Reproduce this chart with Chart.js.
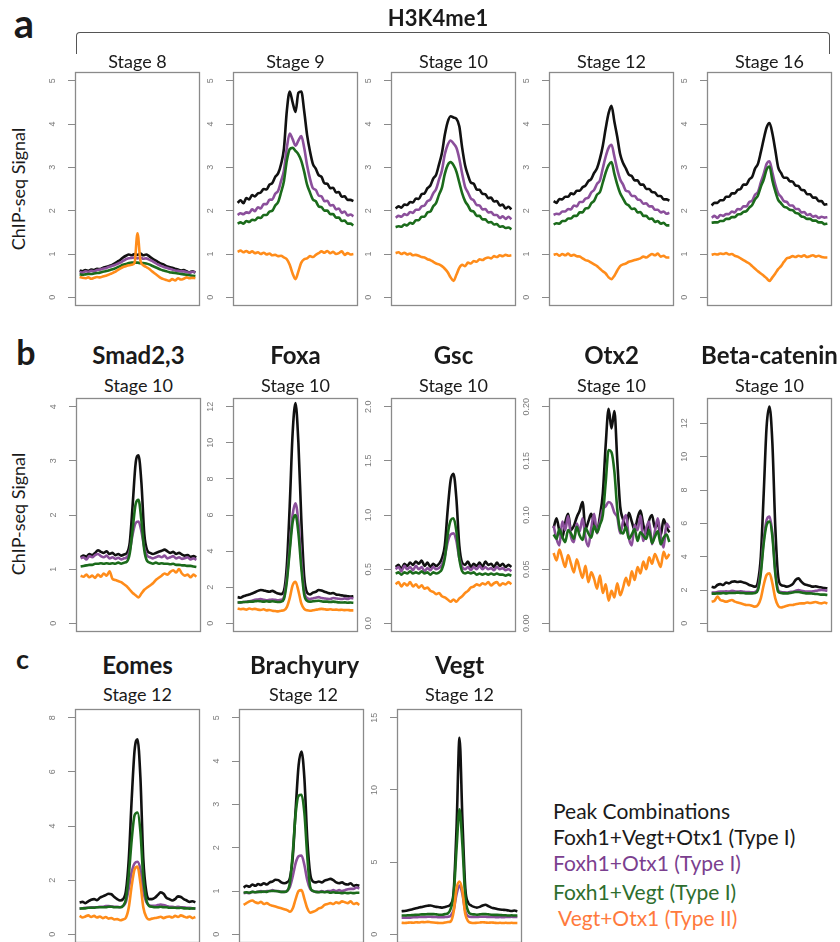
<!DOCTYPE html>
<html>
<head>
<meta charset="utf-8">
<script src="https://cdn.jsdelivr.net/npm/chart.js@4.4.0/dist/chart.umd.min.js"></script>
<style>
  body { margin: 0; width: 840px; height: 942px; overflow: hidden; background: #fff; position: relative; font-family: Lato, "Noto Sans", sans-serif; color: #1a1a1a; }
  canvas { position: absolute; }
  .t { position: absolute; white-space: nowrap; line-height: 1; transform: translate(-50%, -50%); }
  .l { position: absolute; white-space: nowrap; line-height: 1; transform: translate(0, -50%); font-size: 21px; }
</style>
</head>
<body>
<div style="position:absolute;left:75.5px;top:32px;width:752px;height:21px;border:1.5px solid #555;border-bottom:none;border-radius:4px 4px 0 0;"></div>
<script>
// bin positions around the peak centre
const bins = [-20,-19,-18,-17,-16,-15,-14,-13,-12,-11,-10,-9,-8,-7,-6,-5,-4,-3,-2,-1,0,1,2,3,4,5,6,7,8,9,10,11,12,13,14,15,16,17,18,19,20];

const seriesNames = ['Foxh1+Vegt+Otx1 (Type I)', 'Foxh1+Otx1 (Type I)', 'Foxh1+Vegt (Type I)', 'Vegt+Otx1 (Type II)'];
const seriesColors = ['#111111', '#8b4f9b', '#1b6b1b', '#ff8c1a'];
const legendColors = ['#1a1a1a', '#7b3f8f', '#2e6e2e', '#ff7a3d'];

// tick labels / axis limits
const ticksA = ['0','1','2','3','4','5'];
const ticksSmad = ['0','1','2','3','4'];
const ticksFoxa = ['0','2','4','6','8','10','12'];
const ticksGsc = ['0.0','0.5','1.0','1.5','2.0'];
const ticksOtx2 = ['0.00','0.05','0.10','0.15','0.20'];
const ticksBcat = ['0','2','4','6','8','10','12'];
const ticksEomes = ['0','2','4','6','8'];
const ticksBra = ['0','1','2','3','4','5'];
const ticksVegt = ['0','5','10','15'];
const limA = [0, 5], limSmad = [0, 4], limFoxa = [0, 12], limGsc = [0, 2], limOtx2 = [0, 0.2];
const limBcat = [0, 13], limEomes = [0, 8], limBra = [0, 5], limVegt = [0, 15];

// H3K4me1, stage 8
const s8Black = [0.62,0.60,0.63,0.61,0.64,0.63,0.66,0.65,0.68,0.70,0.72,0.74,0.78,0.82,0.86,0.92,0.96,0.99,0.97,1.00,0.98,1.01,0.97,0.99,0.95,0.90,0.86,0.82,0.78,0.76,0.72,0.70,0.68,0.66,0.64,0.62,0.63,0.60,0.58,0.60,0.57];
const s8Purple = [0.58,0.57,0.60,0.59,0.61,0.60,0.63,0.64,0.66,0.67,0.70,0.72,0.74,0.77,0.80,0.84,0.88,0.90,0.91,0.92,0.90,0.92,0.89,0.90,0.87,0.84,0.80,0.76,0.73,0.70,0.68,0.66,0.64,0.62,0.61,0.60,0.60,0.58,0.57,0.59,0.58];
const s8Green = [0.53,0.52,0.53,0.54,0.54,0.55,0.56,0.57,0.59,0.60,0.62,0.64,0.66,0.69,0.72,0.75,0.77,0.79,0.80,0.80,0.80,0.79,0.79,0.78,0.76,0.73,0.70,0.67,0.64,0.62,0.60,0.58,0.57,0.56,0.55,0.54,0.53,0.52,0.51,0.50,0.49];
const s8Orange = [0.47,0.45,0.44,0.46,0.43,0.45,0.47,0.46,0.48,0.50,0.52,0.55,0.58,0.62,0.66,0.70,0.72,0.74,0.75,0.80,1.48,0.85,0.74,0.70,0.66,0.60,0.55,0.50,0.45,0.42,0.40,0.38,0.42,0.39,0.44,0.41,0.43,0.46,0.44,0.45,0.44];
// stage 9
const s9Black = [2.18,2.24,2.17,2.29,2.26,2.36,2.33,2.40,2.42,2.50,2.49,2.60,2.64,2.78,2.86,3.07,3.43,4.30,4.75,4.50,4.28,4.72,4.75,4.30,3.75,3.37,3.08,2.97,2.82,2.78,2.63,2.62,2.52,2.53,2.42,2.43,2.32,2.33,2.25,2.25,2.22];
const s9Purple = [1.90,1.94,1.92,1.96,1.95,2.03,1.99,2.08,2.05,2.15,2.15,2.25,2.26,2.39,2.46,2.68,2.93,3.45,3.78,3.65,3.50,3.62,3.72,3.45,3.05,2.74,2.52,2.48,2.35,2.33,2.22,2.23,2.12,2.13,2.03,2.05,1.95,1.98,1.89,1.91,1.87];
const s9Green = [1.70,1.73,1.70,1.76,1.74,1.79,1.78,1.84,1.83,1.90,1.90,1.98,2.00,2.12,2.20,2.42,2.68,3.15,3.42,3.45,3.38,3.30,3.15,2.90,2.60,2.42,2.26,2.22,2.10,2.08,2.00,2.00,1.92,1.92,1.84,1.84,1.76,1.77,1.70,1.70,1.66];
const s9Orange = [1.05,1.08,1.04,1.07,1.03,1.06,1.02,1.04,1.00,1.03,0.99,1.01,0.97,0.98,0.95,0.96,0.92,0.88,0.75,0.55,0.42,0.60,0.80,0.88,0.90,0.95,0.93,0.98,1.02,1.06,1.03,1.07,1.02,1.05,1.00,1.02,1.06,0.98,1.02,0.99,1.00];
// stage 10
const s10Black = [2.05,2.10,2.07,2.14,2.13,2.20,2.19,2.28,2.27,2.38,2.40,2.52,2.58,2.74,2.83,3.07,3.33,3.75,4.05,4.18,4.15,4.12,3.95,3.45,3.05,2.82,2.65,2.62,2.49,2.48,2.39,2.38,2.29,2.30,2.21,2.22,2.12,2.14,2.05,2.09,2.03];
const s10Purple = [1.84,1.88,1.86,1.92,1.90,1.97,1.95,2.02,2.02,2.10,2.12,2.22,2.26,2.40,2.50,2.72,2.93,3.30,3.52,3.62,3.55,3.45,3.20,2.85,2.55,2.42,2.28,2.24,2.13,2.12,2.03,2.04,1.96,1.97,1.90,1.90,1.83,1.87,1.81,1.86,1.80];
const s10Green = [1.62,1.64,1.63,1.68,1.66,1.72,1.70,1.78,1.78,1.86,1.86,1.96,1.98,2.10,2.18,2.37,2.53,2.85,3.05,3.12,3.05,2.90,2.65,2.40,2.22,2.12,2.00,1.98,1.88,1.88,1.80,1.80,1.73,1.74,1.68,1.69,1.63,1.64,1.60,1.61,1.57];
const s10Orange = [1.02,1.04,1.00,1.03,0.99,1.01,0.97,0.98,0.96,0.93,0.92,0.88,0.86,0.82,0.78,0.76,0.72,0.66,0.58,0.46,0.38,0.52,0.68,0.75,0.72,0.80,0.78,0.84,0.82,0.88,0.86,0.90,0.92,0.90,0.95,0.93,0.97,0.95,0.98,0.96,0.97];
// stage 12
const s12Black = [2.22,2.18,2.27,2.26,2.32,2.32,2.40,2.38,2.46,2.46,2.54,2.58,2.68,2.73,2.87,2.98,3.20,3.50,3.90,4.25,4.42,4.05,3.70,3.30,3.10,2.97,2.83,2.80,2.70,2.70,2.60,2.60,2.50,2.50,2.43,2.42,2.34,2.34,2.26,2.26,2.23];
const s12Purple = [1.90,1.93,1.92,1.98,1.98,2.04,2.03,2.12,2.10,2.20,2.20,2.28,2.30,2.42,2.48,2.62,2.70,2.98,3.25,3.45,3.52,3.25,2.95,2.72,2.60,2.46,2.44,2.34,2.34,2.26,2.24,2.16,2.17,2.10,2.10,2.02,2.02,1.96,1.98,1.93,1.95];
const s12Green = [1.68,1.71,1.70,1.76,1.76,1.82,1.82,1.88,1.88,1.96,1.96,2.05,2.06,2.17,2.23,2.37,2.43,2.65,2.88,3.05,3.12,2.85,2.60,2.40,2.28,2.16,2.12,2.04,2.05,1.96,1.97,1.88,1.88,1.81,1.82,1.74,1.76,1.70,1.72,1.66,1.66];
const s12Orange = [0.98,1.00,0.96,1.00,0.97,1.01,0.96,0.98,0.95,0.94,0.90,0.86,0.84,0.80,0.76,0.72,0.66,0.60,0.55,0.46,0.42,0.50,0.62,0.72,0.76,0.78,0.82,0.84,0.86,0.88,0.90,0.94,0.92,0.96,1.00,0.97,1.01,0.94,0.96,0.92,0.92];
// stage 16
const s16Black = [2.12,2.18,2.18,2.24,2.24,2.32,2.32,2.40,2.40,2.48,2.50,2.60,2.60,2.72,2.78,2.97,3.08,3.35,3.65,3.92,4.02,3.78,3.40,3.00,2.87,2.76,2.76,2.68,2.67,2.58,2.57,2.48,2.47,2.38,2.38,2.30,2.30,2.22,2.22,2.14,2.15];
const s16Purple = [1.84,1.88,1.83,1.90,1.88,1.92,1.92,1.98,1.96,2.04,2.03,2.10,2.10,2.20,2.23,2.37,2.43,2.65,2.85,3.08,3.14,2.88,2.60,2.40,2.32,2.22,2.20,2.12,2.12,2.04,2.04,1.96,1.97,1.90,1.92,1.86,1.88,1.83,1.86,1.84,1.85];
const s16Green = [1.72,1.73,1.73,1.76,1.76,1.81,1.81,1.85,1.85,1.91,1.92,1.97,1.99,2.07,2.13,2.26,2.35,2.55,2.72,2.95,3.02,2.70,2.45,2.25,2.17,2.09,2.07,2.02,2.01,1.95,1.93,1.87,1.85,1.81,1.81,1.77,1.77,1.73,1.73,1.69,1.70];
const s16Orange = [0.98,1.00,0.99,1.01,1.00,1.02,0.99,1.00,0.96,0.94,0.90,0.86,0.82,0.78,0.72,0.66,0.60,0.55,0.50,0.44,0.38,0.46,0.55,0.65,0.72,0.82,0.90,0.92,0.95,0.93,0.96,0.94,0.97,0.93,0.95,0.97,0.94,0.96,0.93,0.92,0.92];

// stage 10 factors
const smadBlack = [1.22,1.25,1.23,1.28,1.26,1.30,1.35,1.32,1.30,1.33,1.28,1.30,1.26,1.28,1.25,1.27,1.30,1.50,2.20,2.95,3.10,2.60,1.65,1.35,1.30,1.28,1.30,1.32,1.34,1.36,1.33,1.30,1.32,1.28,1.30,1.27,1.25,1.26,1.23,1.24,1.22];
const smadPurple = [1.20,1.22,1.18,1.24,1.22,1.26,1.28,1.24,1.22,1.25,1.20,1.22,1.19,1.21,1.18,1.20,1.22,1.35,1.65,1.85,1.88,1.70,1.40,1.25,1.22,1.20,1.22,1.24,1.22,1.25,1.20,1.22,1.24,1.20,1.22,1.19,1.20,1.22,1.18,1.20,1.17];
const smadGreen = [1.05,1.06,1.07,1.08,1.08,1.10,1.10,1.11,1.10,1.11,1.10,1.11,1.10,1.12,1.10,1.12,1.14,1.30,1.75,2.20,2.28,1.90,1.35,1.15,1.12,1.10,1.12,1.10,1.11,1.10,1.10,1.09,1.10,1.08,1.08,1.07,1.07,1.06,1.06,1.05,1.04];
const smadOrange = [0.88,0.86,0.90,0.85,0.88,0.84,0.90,0.86,0.92,0.88,0.96,0.82,0.80,0.78,0.76,0.72,0.68,0.62,0.56,0.52,0.48,0.55,0.62,0.66,0.70,0.74,0.80,0.84,0.88,0.92,0.90,0.95,0.98,0.94,1.00,0.92,0.88,0.90,0.85,0.90,0.86];

const foxaBlack = [1.45,1.42,1.50,1.55,1.60,1.65,1.72,1.80,1.85,1.82,1.78,1.75,1.80,1.72,1.65,1.62,1.80,3.20,6.50,10.50,12.20,10.00,5.80,2.60,1.70,1.60,1.70,1.75,1.85,1.82,1.75,1.70,1.65,1.68,1.60,1.58,1.55,1.52,1.50,1.48,1.50];
const foxaPurple = [1.15,1.15,1.18,1.20,1.22,1.25,1.30,1.32,1.35,1.30,1.28,1.30,1.32,1.30,1.28,1.30,1.45,2.50,4.20,6.00,6.65,5.60,3.50,1.80,1.40,1.35,1.38,1.42,1.45,1.40,1.38,1.36,1.35,1.40,1.38,1.36,1.35,1.38,1.35,1.40,1.38];
const foxaGreen = [1.15,1.16,1.18,1.18,1.20,1.20,1.22,1.24,1.22,1.20,1.22,1.20,1.22,1.20,1.18,1.20,1.35,2.30,4.00,5.60,6.00,5.00,3.10,1.60,1.25,1.20,1.22,1.24,1.25,1.22,1.20,1.20,1.18,1.20,1.18,1.16,1.15,1.16,1.14,1.15,1.14];
const foxaOrange = [0.82,0.78,0.80,0.76,0.82,0.78,0.80,0.76,0.74,0.78,0.72,0.74,0.70,0.68,0.66,0.70,0.72,0.90,1.40,2.10,2.30,1.80,1.10,0.80,0.72,0.70,0.72,0.75,0.78,0.80,0.78,0.76,0.78,0.75,0.76,0.74,0.75,0.73,0.74,0.72,0.72];

const gscBlack = [0.52,0.54,0.50,0.55,0.53,0.56,0.54,0.57,0.55,0.58,0.53,0.56,0.52,0.55,0.53,0.55,0.60,0.72,1.05,1.32,1.38,1.15,0.72,0.56,0.54,0.57,0.52,0.55,0.53,0.56,0.52,0.57,0.54,0.55,0.52,0.56,0.53,0.55,0.52,0.54,0.52];
const gscPurple = [0.50,0.52,0.48,0.53,0.50,0.52,0.49,0.53,0.50,0.52,0.48,0.51,0.49,0.52,0.50,0.51,0.54,0.62,0.75,0.82,0.83,0.76,0.60,0.52,0.50,0.52,0.49,0.52,0.50,0.53,0.50,0.52,0.50,0.51,0.49,0.52,0.50,0.51,0.49,0.50,0.48];
const gscGreen = [0.46,0.47,0.45,0.47,0.46,0.48,0.46,0.47,0.46,0.48,0.46,0.47,0.45,0.47,0.46,0.47,0.50,0.60,0.82,0.95,0.97,0.85,0.60,0.48,0.46,0.47,0.46,0.47,0.45,0.46,0.45,0.46,0.45,0.46,0.45,0.46,0.45,0.45,0.44,0.45,0.44];
const gscOrange = [0.36,0.38,0.34,0.37,0.35,0.38,0.34,0.36,0.33,0.35,0.32,0.33,0.30,0.29,0.27,0.28,0.25,0.24,0.22,0.20,0.22,0.20,0.23,0.25,0.28,0.30,0.33,0.34,0.36,0.35,0.37,0.36,0.38,0.35,0.37,0.38,0.35,0.37,0.36,0.38,0.36];

const otx2Black = [0.088,0.097,0.085,0.079,0.093,0.101,0.086,0.090,0.098,0.104,0.112,0.087,0.094,0.101,0.092,0.085,0.099,0.120,0.165,0.198,0.180,0.196,0.150,0.108,0.096,0.088,0.102,0.094,0.086,0.097,0.104,0.091,0.083,0.095,0.100,0.088,0.092,0.081,0.096,0.089,0.084];
const otx2Purple = [0.090,0.078,0.072,0.094,0.086,0.099,0.080,0.075,0.092,0.085,0.097,0.079,0.071,0.088,0.101,0.083,0.094,0.105,0.108,0.112,0.110,0.102,0.098,0.083,0.094,0.100,0.079,0.072,0.091,0.086,0.099,0.076,0.088,0.094,0.073,0.085,0.097,0.080,0.070,0.092,0.088];
const otx2Green = [0.082,0.078,0.087,0.080,0.075,0.086,0.083,0.078,0.089,0.081,0.077,0.088,0.083,0.079,0.090,0.084,0.091,0.100,0.130,0.160,0.158,0.140,0.105,0.086,0.083,0.089,0.078,0.082,0.087,0.076,0.084,0.081,0.078,0.086,0.074,0.080,0.085,0.073,0.079,0.082,0.075];
const otx2Orange = [0.065,0.058,0.068,0.060,0.052,0.063,0.055,0.047,0.059,0.050,0.042,0.053,0.038,0.047,0.041,0.032,0.044,0.028,0.036,0.021,0.030,0.024,0.037,0.026,0.033,0.042,0.035,0.048,0.040,0.052,0.046,0.057,0.050,0.061,0.055,0.064,0.058,0.052,0.066,0.060,0.064];

const bcatBlack = [2.20,2.15,2.30,2.35,2.30,2.45,2.40,2.50,2.52,2.48,2.50,2.45,2.40,2.30,2.25,2.20,2.50,4.00,7.80,11.80,13.00,10.80,5.80,2.80,2.30,2.25,2.20,2.25,2.35,2.60,2.70,2.50,2.35,2.30,2.25,2.20,2.22,2.18,2.15,2.12,2.10];
const bcatPurple = [1.85,1.85,1.88,1.90,1.90,1.92,1.90,1.95,1.92,1.90,1.92,1.90,1.88,1.88,1.86,1.88,2.10,3.20,5.00,6.20,6.40,5.40,3.20,2.00,1.88,1.86,1.85,1.88,1.90,1.95,2.00,1.95,1.92,1.90,1.90,1.92,1.95,1.98,2.00,1.98,1.95];
const bcatGreen = [1.78,1.78,1.80,1.80,1.82,1.80,1.82,1.82,1.82,1.84,1.82,1.82,1.80,1.80,1.80,1.82,2.00,3.00,4.80,5.90,6.10,5.20,3.00,1.90,1.82,1.80,1.80,1.82,1.85,1.88,1.88,1.85,1.82,1.80,1.80,1.78,1.76,1.75,1.72,1.72,1.70];
const bcatOrange = [1.30,1.35,1.60,1.40,1.35,1.30,1.35,1.40,1.30,1.25,1.20,1.15,1.10,1.10,1.05,1.00,1.10,1.50,2.30,2.90,3.00,2.40,1.50,1.05,0.95,1.00,1.05,1.10,1.10,1.15,1.18,1.20,1.20,1.25,1.22,1.25,1.28,1.22,1.20,1.25,1.18];

// stage 12 factors
const eomesBlack = [1.18,1.20,1.15,1.22,1.28,1.30,1.26,1.35,1.40,1.45,1.50,1.48,1.38,1.30,1.25,1.30,1.60,2.80,5.00,6.80,7.20,5.80,2.80,1.60,1.30,1.30,1.35,1.45,1.55,1.50,1.35,1.30,1.25,1.30,1.40,1.38,1.30,1.25,1.20,1.22,1.18];
const eomesPurple = [0.95,0.96,0.98,0.98,1.00,1.00,1.00,1.02,1.02,1.04,1.04,1.03,1.02,1.02,1.00,1.05,1.20,1.70,2.30,2.62,2.68,2.40,1.60,1.20,1.08,1.05,1.05,1.08,1.10,1.08,1.05,1.02,1.02,1.00,1.02,1.00,1.00,0.98,0.98,0.96,0.96];
const eomesGreen = [0.95,0.96,0.96,0.98,0.98,0.98,1.00,1.00,1.00,1.00,1.02,1.02,1.00,1.00,1.00,1.05,1.30,2.20,3.50,4.40,4.50,3.80,2.10,1.30,1.05,1.02,1.00,1.00,1.02,1.00,1.00,0.98,0.98,0.98,0.97,0.98,0.96,0.96,0.95,0.96,0.95];
const eomesOrange = [0.68,0.62,0.66,0.70,0.64,0.68,0.62,0.66,0.60,0.64,0.58,0.60,0.55,0.56,0.52,0.55,0.62,1.00,1.80,2.40,2.50,1.90,1.00,0.65,0.55,0.58,0.60,0.62,0.65,0.60,0.64,0.66,0.62,0.68,0.64,0.70,0.66,0.62,0.66,0.60,0.64];

const braBlack = [1.08,1.12,1.10,1.15,1.12,1.16,1.14,1.18,1.15,1.20,1.22,1.26,1.25,1.20,1.18,1.20,1.30,1.80,2.90,3.90,4.22,3.60,2.20,1.40,1.22,1.20,1.22,1.20,1.24,1.26,1.28,1.25,1.20,1.18,1.20,1.16,1.15,1.18,1.12,1.14,1.12];
const braPurple = [0.95,0.96,0.95,0.98,0.97,0.98,1.00,0.98,1.00,1.00,1.02,1.00,1.00,0.98,0.98,1.00,1.10,1.35,1.65,1.80,1.82,1.60,1.25,1.05,1.00,0.98,0.98,1.00,0.98,1.00,1.00,1.02,1.00,1.02,1.00,1.02,1.04,1.05,1.05,1.08,1.06];
const braGreen = [0.96,0.97,0.96,0.98,0.97,0.98,0.98,0.99,0.98,1.00,1.00,1.00,0.99,0.98,0.98,1.00,1.20,1.90,2.80,3.20,3.22,2.80,1.80,1.10,1.00,0.98,0.97,0.98,0.97,0.98,0.96,0.97,0.96,0.96,0.95,0.96,0.95,0.96,0.95,0.96,0.96];
const braOrange = [0.68,0.72,0.76,0.78,0.74,0.72,0.75,0.70,0.72,0.68,0.66,0.64,0.62,0.60,0.58,0.56,0.52,0.60,0.82,1.00,1.02,0.82,0.60,0.50,0.52,0.55,0.60,0.62,0.68,0.70,0.72,0.70,0.74,0.72,0.76,0.74,0.72,0.76,0.70,0.72,0.68];

const vegtBlack = [1.60,1.62,1.65,1.70,1.75,1.80,1.85,1.90,1.95,1.98,2.00,1.95,1.90,1.88,1.85,1.90,1.95,2.10,3.00,7.50,13.60,8.00,3.20,2.20,2.00,1.90,1.85,1.90,2.00,2.05,1.95,1.85,1.80,1.75,1.72,1.70,1.68,1.65,1.62,1.65,1.60];
const vegtPurple = [1.15,1.15,1.16,1.16,1.18,1.18,1.20,1.20,1.20,1.22,1.22,1.20,1.20,1.18,1.18,1.20,1.22,1.30,1.70,2.80,3.38,2.80,1.60,1.25,1.20,1.20,1.20,1.22,1.22,1.22,1.20,1.20,1.20,1.18,1.20,1.18,1.20,1.20,1.22,1.20,1.20];
const vegtGreen = [1.30,1.30,1.32,1.32,1.34,1.35,1.36,1.38,1.38,1.40,1.40,1.40,1.38,1.36,1.36,1.40,1.45,1.80,2.80,6.00,8.65,6.20,2.60,1.60,1.40,1.38,1.36,1.38,1.40,1.40,1.38,1.36,1.35,1.35,1.34,1.32,1.32,1.30,1.32,1.30,1.30];
const vegtOrange = [0.80,0.78,0.80,0.82,0.80,0.84,0.82,0.85,0.84,0.86,0.84,0.82,0.80,0.78,0.78,0.82,0.85,0.90,1.60,3.20,3.65,3.00,1.40,0.90,0.80,0.78,0.80,0.82,0.84,0.82,0.80,0.82,0.80,0.78,0.80,0.78,0.80,0.78,0.80,0.78,0.78];

const panels = [
  { left: 75,  top: 72,  lim: limA, ticks: ticksA, series: [s8Black, s8Purple, s8Green, s8Orange] },
  { left: 233, top: 72,  lim: limA, ticks: ticksA, series: [s9Black, s9Purple, s9Green, s9Orange] },
  { left: 391, top: 72,  lim: limA, ticks: ticksA, series: [s10Black, s10Purple, s10Green, s10Orange] },
  { left: 549, top: 72,  lim: limA, ticks: ticksA, series: [s12Black, s12Purple, s12Green, s12Orange] },
  { left: 707, top: 72,  lim: limA, ticks: ticksA, series: [s16Black, s16Purple, s16Green, s16Orange] },
  { left: 76,  top: 398, lim: limSmad, ticks: ticksSmad, series: [smadBlack, smadPurple, smadGreen, smadOrange] },
  { left: 233, top: 398, lim: limFoxa, ticks: ticksFoxa, series: [foxaBlack, foxaPurple, foxaGreen, foxaOrange] },
  { left: 391, top: 398, lim: limGsc, ticks: ticksGsc, series: [gscBlack, gscPurple, gscGreen, gscOrange] },
  { left: 549, top: 398, lim: limOtx2, ticks: ticksOtx2, series: [otx2Black, otx2Purple, otx2Green, otx2Orange] },
  { left: 707, top: 398, lim: limBcat, ticks: ticksBcat, series: [bcatBlack, bcatPurple, bcatGreen, bcatOrange] },
  { left: 75,  top: 709, lim: limEomes, ticks: ticksEomes, series: [eomesBlack, eomesPurple, eomesGreen, eomesOrange] },
  { left: 239, top: 709, lim: limBra, ticks: ticksBra, series: [braBlack, braPurple, braGreen, braOrange] },
  { left: 397, top: 709, lim: limVegt, ticks: ticksVegt, series: [vegtBlack, vegtPurple, vegtGreen, vegtOrange] },
];

const BOX_W = 125, BOX_H = 234, AXIS_W = 40;
const tickFont = { family: 'Liberation Sans', size: 9 };
const meas = document.createElement('canvas').getContext('2d');
meas.font = '9px "Liberation Sans"';

const boxPlugin = {
  id: 'box',
  afterDraw(chart) {
    const a = chart.chartArea, c = chart.ctx;
    c.save();
    c.strokeStyle = '#8a8a8a';
    c.lineWidth = 1.3;
    c.strokeRect(a.left + 0.5, a.top + 0.5, a.right - a.left - 1, a.bottom - a.top - 1);
    c.restore();
  }
};

panels.forEach(p => {
  const cv = document.createElement('canvas');
  cv.width = AXIS_W + BOX_W + 1;
  cv.height = BOX_H + 2;
  cv.style.left = (p.left - AXIS_W) + 'px';
  cv.style.top = (p.top - 1) + 'px';
  document.body.appendChild(cv);

  const span = p.lim[1] - p.lim[0];
  const tickVals = p.ticks.map(Number);
  const widest = Math.max(...p.ticks.map(l => meas.measureText(l).width));

  new Chart(cv, {
    type: 'line',
    data: {
      labels: bins,
      datasets: p.series.map((s, i) => ({
        label: seriesNames[i],
        data: s,
        borderColor: seriesColors[i],
        order: 4 - i,
      }))
    },
    options: {
      responsive: false,
      animation: false,
      devicePixelRatio: 1,
      layout: { padding: { left: 0, top: 1, right: 1, bottom: 1 } },
      plugins: { legend: { display: false }, tooltip: { enabled: false } },
      elements: {
        point: { radius: 0 },
        line: { borderWidth: 2.6, cubicInterpolationMode: 'monotone' }
      },
      scales: {
        x: { type: 'linear', display: false, min: -21.6, max: 21.6 },
        y: {
          min: p.lim[0] - 0.04 * span,
          max: p.lim[1] + 0.04 * span,
          afterBuildTicks: s => { s.ticks = tickVals.map(v => ({ value: v })); },
          afterFit: s => { s.width = AXIS_W; s.paddingTop = 0; s.paddingBottom = 0; },
          border: { display: false },
          grid: { drawOnChartArea: false, tickLength: 7, color: '#8a8a8a', lineWidth: 1 },
          ticks: {
            minRotation: 90, maxRotation: 90, crossAlign: 'center',
            padding: 15 - widest / 2,
            font: tickFont, color: '#7a7a7a',
            callback: (v, i) => p.ticks[i]
          }
        }
      }
    },
    plugins: [boxPlugin]
  });
});

// text
function text(str, cx, cy, css, cls) {
  const d = document.createElement('div');
  d.className = cls || 't';
  d.textContent = str;
  d.style.left = cx + 'px';
  d.style.top = cy + 'px';
  Object.assign(d.style, css || {});
  document.body.appendChild(d);
}
const stageA = ['Stage 8', 'Stage 9', 'Stage 10', 'Stage 12', 'Stage 16'];
const factorsB = ['Smad2,3', 'Foxa', 'Gsc', 'Otx2', 'Beta-catenin'];
const factorsC = ['Eomes', 'Brachyury', 'Vegt'];

text('a', 24, 23, { fontSize: '40px', fontWeight: 'bold' });
text('H3K4me1', 438, 18, { fontSize: '22px', fontWeight: 'bold' });
stageA.forEach((s, i) => text(s, panels[i].left + BOX_W / 2, 60.5, { fontSize: '18px' }));

text('b', 26, 352, { fontSize: '34px', fontWeight: 'bold' });
factorsB.forEach((s, i) => {
  text(s, panels[5 + i].left + BOX_W / 2, 355, { fontSize: '24px', fontWeight: 'bold' });
  text('Stage 10', panels[5 + i].left + BOX_W / 2, 385, { fontSize: '18px' });
});

text('c', 22.5, 658, { fontSize: '27px', fontWeight: 'bold' });
factorsC.forEach((s, i) => {
  text(s, panels[10 + i].left + BOX_W / 2 + (i === 1 ? 3 : 0), 665, { fontSize: '24px', fontWeight: 'bold' });
  text('Stage 12', panels[10 + i].left + BOX_W / 2 + (i === 1 ? 2 : 0), 694, { fontSize: '18px' });
});

text('ChIP-seq Signal', 18, 189, { fontSize: '18px', transform: 'translate(-50%,-50%) rotate(-90deg)' });
text('ChIP-seq Signal', 18, 514, { fontSize: '18px', transform: 'translate(-50%,-50%) rotate(-90deg)' });

text('Peak Combinations', 553, 810, { color: legendColors[0] }, 'l');
const legendY = [836, 862, 891, 917];
const legendX = [553, 553, 553, 558];
seriesNames.forEach((s, i) => text(s, legendX[i], legendY[i], { color: legendColors[i] }, 'l'));
</script>
</body>
</html>
